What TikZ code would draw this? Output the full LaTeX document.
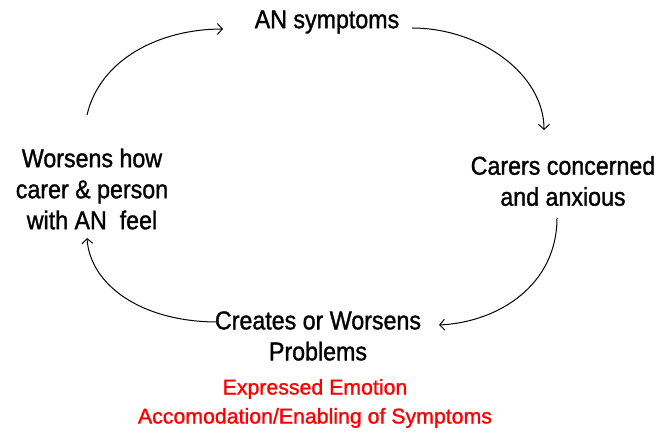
\documentclass[tikz,border=0pt]{standalone}
\usepackage{fontspec}
\setmainfont{Liberation Sans}
\newfontfamily\heavyfont[FakeBold=1.2]{Liberation Sans}
\newfontfamily\tallfont[FakeBold=1.2,FakeStretch=0.9]{Liberation Sans}
\usetikzlibrary{arrows.meta}
\begin{document}
\begin{tikzpicture}[x=1pt,y=1pt,
  lbl/.style={font=\tallfont\fontsize{25.8}{31}\selectfont, align=center, inner sep=0pt},
  redlbl/.style={font=\heavyfont\fontsize{21.3}{29}\selectfont, align=center, inner sep=0pt, text=red},
  cyc/.style={line width=1pt, -{Straight Barb[length=5pt,width=11pt]}}]
\useasboundingbox (0,0) rectangle (660,434);
\node[lbl] (top) at (327,412) {AN symptoms};
\node[lbl] (right) at (563,253) {Carers concerned\\and anxious};
\node[lbl] (bottom) at (318,98) {Creates or Worsens\\Problems};
\node[lbl] (left) at (92,245) {Worsens how\\carer \& person\\with AN\ \ feel};
\node[redlbl] (ee) at (315,30.5) {Expressed Emotion\\Accomodation/Enabling of Symptoms};
\coordinate (a1s) at (87,319);
\coordinate (a1e) at (223,405);
\coordinate (a2s) at (412,406);
\coordinate (a2e) at (544,304);
\coordinate (a3s) at (557,216);
\coordinate (a3e) at (439,109);
\coordinate (a4s) at (218,112);
\coordinate (a4e) at (87,196);
\draw[cyc] (a1s) .. controls (100,375) and (160,405) .. (a1e);
\draw[cyc] (a2s) .. controls (480,406) and (544,360) .. (a2e);
\draw[cyc] (a3s) .. controls (557,150) and (500,112) .. (a3e);
\draw[cyc] (a4s) .. controls (140,112) and (90,150) .. (a4e);
\end{tikzpicture}
\end{document}
